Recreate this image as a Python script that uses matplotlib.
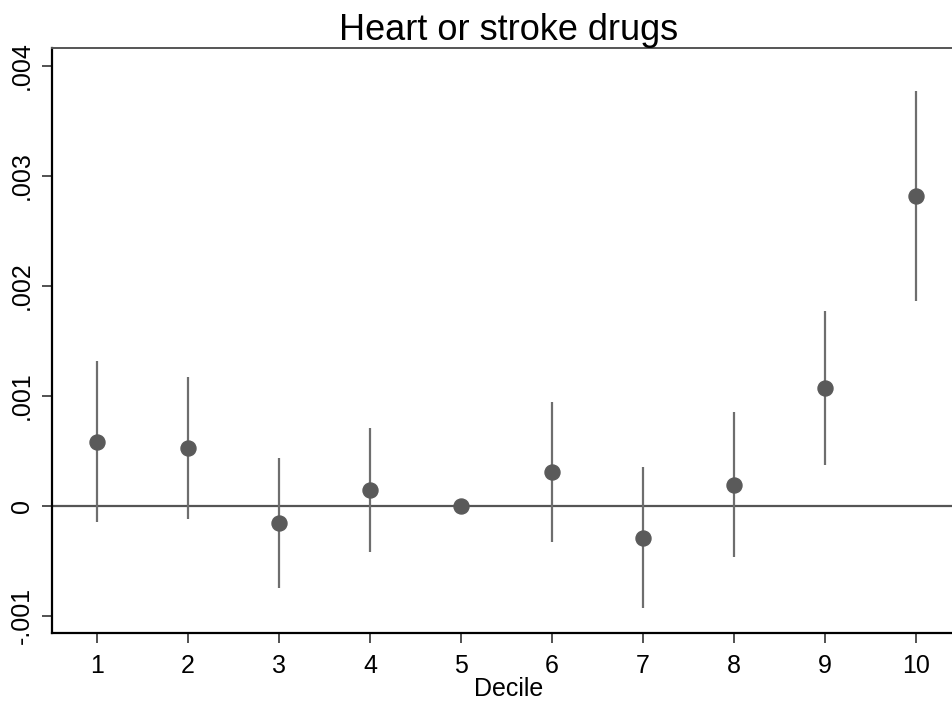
import matplotlib as mpl
import matplotlib.pyplot as plt
from matplotlib import rcParams

rcParams['font.family'] = ['Liberation Sans', 'DejaVu Sans']
mpl.rcParams['axes.unicode_minus'] = False

deciles = [1, 2, 3, 4, 5, 6, 7, 8, 9, 10]
coef = [0.000579, 0.000527, -0.000155, 0.000143, 0.0, 0.000307, -0.000294, 0.000189, 0.001071, 0.002815]
ci_low = [-0.000151, -0.000118, -0.000745, -0.000421, 0.0, -0.000328, -0.000933, -0.00047, 0.000372, 0.001862]
ci_high = [0.001315, 0.001167, 0.000436, 0.000709, 0.0, 0.000939, 0.000348, 0.000848, 0.001768, 0.003768]
yticks = [-0.001, 0, 0.001, 0.002, 0.003, 0.004]
ytick_labels = ['-.001', '0', '.001', '.002', '.003', '.004']

fig = plt.figure(figsize = (9.52, 7.06), dpi = 100)
ax = fig.add_axes([0.0546, 0.1034, 0.9454, 0.8286])

ax.axhline(0, color = '#555555', lw = 1.6, zorder = 1)
# confidence intervals (base decile 5 has none)
for d, lo, hi in zip(deciles, ci_low, ci_high):
    if lo != hi:
        ax.vlines(d, lo, hi, color = '#6e6e6e', lw = 1.6, zorder = 2)
ax.plot(deciles, coef, 'o', color = '#5a5a5a', ms = 10.8, zorder = 3)

ax.set_xlim(0.505, 10.396)
ax.set_ylim(-0.001157, 0.004161)
ax.set_xticks(deciles)
ax.set_xticklabels([str(d) for d in deciles], fontsize = 18)
ax.set_yticks(yticks)
ax.set_yticklabels(ytick_labels, fontsize = 18, rotation = 90, va = 'center')
ax.tick_params(axis = 'x', length = 7, width = 1.2, color = '#333333', pad = 8)
ax.tick_params(axis = 'y', length = 7, width = 1.2, color = '#333333', pad = 6)

ax.spines['right'].set_visible(False)
ax.spines['top'].set_color('#555555')
ax.spines['top'].set_linewidth(1.4)
for s in ['left', 'bottom']:
    ax.spines[s].set_color('black')
    ax.spines[s].set_linewidth(1.6)

ax.set_xlabel('Decile', fontsize = 18, labelpad = 0)
ax.xaxis.set_label_coords(0.507, -0.075)
ax.set_title('Heart or stroke drugs', fontsize = 26, pad = 6, x = 0.507)

plt.savefig('out.png', dpi = 100)
